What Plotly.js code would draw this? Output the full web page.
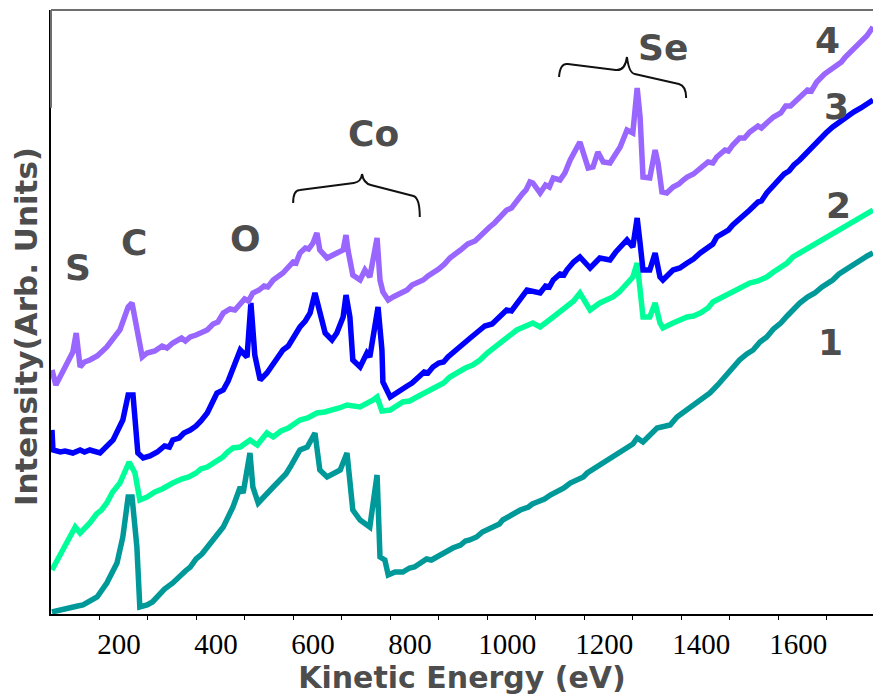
<!DOCTYPE html>
<html>
<head>
<meta charset="utf-8">
<script src="https://cdn.plot.ly/plotly-3.0.1.min.js"></script>
<style>html,body{margin:0;padding:0;background:#fff;}#chart{width:873px;height:696px;}</style>
</head>
<body>
<div id="chart"></div>
<script>
// Kinetic energy (eV) and intensity (arb. units)
const energy4 = [103,111,146,153,161,170,181,196,205,216,243,260,268,278,289,299,315,330,340,352,370,378,388,400,410,423,435,445,456,470,480,491,500,508,517,530,540,548,559,579,590,600,606,614,625,632,641,649,655,670,682,703,709,713,723,738,748,758,773,779,785,796,806,820,835,845,855,868,878,888,900,912,923,945,960,975,990,1005,1015,1026,1040,1050,1061,1072,1080,1088,1094,1109,1120,1128,1136,1150,1160,1171,1191,1197,1208,1218,1228,1239,1253,1262,1274,1288,1300,1309,1315,1321,1335,1346,1352,1360,1370,1383,1395,1404,1412,1425,1439,1455,1465,1473,1490,1497,1506,1520,1530,1541,1558,1565,1576,1590,1605,1615,1625,1635,1644,1660,1668,1679,1695,1705,1718,1730,1738,1747,1760,1770,1782,1795];
const intensity4 = [244,229,262,281,247,252,254,258,262,267,284,307,311,284,257,261,263,268,266,271,276,273,277,279,281,284,290,292,301,305,304,311,315,313,321,324,328,327,334,341,347,352,351,361,366,365,371,381,364,356,359,364,379,364,339,334,344,337,376,334,322,314,317,321,324,329,331,334,338,341,345,350,356,364,370,373,381,387,391,397,404,406,414,420,424,432,431,421,429,427,436,434,441,454,472,464,446,447,462,452,451,458,467,484,481,526,497,437,436,464,451,422,421,427,430,434,437,440,446,452,451,457,464,463,469,476,476,482,488,486,491,497,501,508,508,513,517,524,523,532,540,543,548,552,557,561,568,571,578,587];

const energy3 = [103,105,120,130,146,161,170,181,202,229,249,260,270,280,291,305,320,335,345,352,365,375,388,400,410,423,443,456,466,476,491,505,513,521,532,546,560,570,579,590,600,607,614,625,635,645,655,666,680,690,703,709,717,723,738,752,758,775,783,785,800,820,835,845,855,870,878,888,900,910,919,935,950,965,980,995,1010,1026,1040,1050,1061,1082,1109,1120,1128,1136,1150,1158,1164,1178,1191,1212,1232,1253,1265,1275,1288,1300,1309,1315,1321,1335,1346,1356,1362,1383,1397,1412,1425,1439,1455,1465,1473,1490,1497,1506,1520,1530,1541,1558,1565,1576,1590,1600,1612,1622,1632,1644,1660,1672,1685,1698,1712,1725,1740,1755,1770,1783,1795];
const intensity3 = [184,164,162,163,161,164,162,164,161,174,194,219,219,161,156,158,162,168,167,174,176,181,184,188,193,201,221,224,233,247,264,257,311,259,234,241,250,256,264,268,276,279,287,293,301,321,304,281,274,281,297,319,297,254,247,261,257,307,264,232,217,224,228,231,236,242,241,247,251,252,257,264,271,276,282,288,290,297,304,303,311,324,321,328,327,334,340,339,344,352,357,346,356,354,362,367,374,367,396,371,344,344,361,337,334,344,346,351,355,361,367,370,377,382,384,389,395,398,404,412,413,421,429,433,440,443,449,454,462,469,474,481,487,492,497,502,506,510,514];

const energy2 = [103,126,151,161,181,195,205,216,228,243,262,274,284,299,315,330,340,352,370,385,400,410,423,440,455,465,476,491,511,526,536,546,559,575,590,600,614,630,640,649,665,682,695,711,738,765,773,783,800,826,840,855,870,882,896,910,923,940,955,970,985,1000,1013,1026,1040,1050,1061,1094,1109,1136,1150,1164,1178,1191,1212,1232,1259,1272,1288,1300,1309,1315,1321,1335,1346,1356,1362,1383,1412,1425,1439,1455,1465,1473,1490,1506,1520,1530,1541,1558,1576,1590,1605,1618,1630,1644,1660,1675,1690,1700,1712,1725,1740,1755,1770,1783,1795];
const intensity2 = [44,64,87,81,91,100,104,111,122,131,152,141,114,117,122,125,128,131,135,137,141,145,147,152,157,162,166,167,174,169,176,181,177,183,186,190,194,196,198,201,202,204,206,209,207,214,217,203,204,212,213,217,221,224,227,231,237,242,246,249,254,261,266,271,276,280,284,291,287,297,302,307,313,321,304,311,317,322,331,337,351,324,297,297,311,291,286,291,297,298,301,306,312,314,318,322,325,328,331,333,337,342,346,351,357,361,366,369,374,377,381,384,389,393,397,401,404];

const energy1 = [103,126,146,156,167,180,196,216,237,249,260,268,278,284,299,310,320,335,352,365,378,388,400,412,423,435,445,456,476,491,497,511,517,528,559,575,585,594,604,614,629,645,655,670,697,711,723,738,758,773,779,789,796,810,826,840,850,861,875,885,896,910,920,929,945,955,964,978,990,1000,1015,1025,1032,1045,1057,1068,1085,1093,1103,1118,1130,1144,1158,1171,1188,1198,1206,1222,1230,1239,1255,1265,1274,1290,1300,1309,1321,1350,1377,1391,1418,1430,1445,1459,1475,1490,1498,1506,1520,1535,1548,1562,1576,1590,1605,1618,1630,1644,1660,1675,1690,1700,1712,1725,1740,1755,1770,1783,1795];
const intensity1 = [2,4,7,8,9,13,17,31,51,77,117,117,67,7,9,12,17,25,31,38,43,47,55,60,67,74,79,87,107,127,121,161,127,111,127,135,140,147,155,164,167,181,144,137,144,161,104,94,87,139,57,54,39,42,42,46,47,51,55,54,57,60,64,66,69,73,74,77,82,84,88,90,94,98,101,104,107,110,112,115,119,122,126,131,135,137,141,146,148,152,156,159,162,167,170,176,172,186,189,197,206,210,215,221,229,237,241,247,254,260,264,272,277,285,291,298,304,311,317,321,327,330,334,340,345,349,354,358,361];

const seriesNames = ['1','2','3','4'];
const seriesColors = ['#009999','#00FF99','#0000FF','#9966FF'];

// tick marks every 100 eV; labels every 200 eV (drawn slightly to the right of their ticks, as in the reference)
const xTickVals = [200,300,400,500,600,700,800,900,1000,1100,1200,1300,1400,1500,1600,1700];
const xLabelVals = [200,400,600,800,1000,1200,1400,1600];
const xLabelText = ['200','400','600','800','1000','1200','1400','1600'];
const xRange = [101,1795];
const labelOffsetEV = 41;

// element labels: [text, energy, intensity]
const peakLabels = [['S',157,347],['C',272,372],['O',501,376],['Co',765,481],['Se',1362,567]];
const curveLabels = [['4',1702,574],['3',1719,508],['2',1723,409],['1',1708,272]];

const textColor = '#4d4d4d';
const labelFont = {family:'DejaVu Sans', size:36, color:textColor, weight:'bold'};

const data = [
  {x:energy1, y:intensity1, name:seriesNames[0]},
  {x:energy2, y:intensity2, name:seriesNames[1]},
  {x:energy3, y:intensity3, name:seriesNames[2]},
  {x:energy4, y:intensity4, name:seriesNames[3]}
].map((t,i)=>Object.assign(t,{type:'scatter', mode:'lines', line:{color:seriesColors[i], width:5.5}, hoverinfo:'skip'}));
// empty trace so the label axis is created
data.push({type:'scatter', mode:'lines', x:[], y:[], xaxis:'x2', yaxis:'y', hoverinfo:'skip', showlegend:false});

const annotations = peakLabels.concat(curveLabels).map(a=>({
  text:a[0], x:a[1], y:a[2], xref:'x', yref:'y', showarrow:false, font:labelFont,
  xanchor:'center', yanchor:'middle'
}));
annotations.push({
  text:'Intensity(Arb. Units)', xref:'paper', yref:'paper', x:-0.0304, y:0.475,
  textangle:-90, showarrow:false, xanchor:'center', yanchor:'middle',
  font:{family:'DejaVu Sans', size:31, color:textColor, weight:'bold'}
});

const braceStyle = {color:'#111', width:2};
const shapes = [
  {type:'path', xref:'x', yref:'y', line:braceStyle,
   path:'M 600,411 Q 600,424 614,424 L 725,431 Q 740,432 742,440 Q 745,431 760,429 L 848,418 Q 861,416 861,397'},
  {type:'path', xref:'x', yref:'y', line:braceStyle,
   path:'M 1148,537 Q 1150,551 1166,550 L 1265,544 Q 1284,543 1288,557 Q 1292,541 1304,540 L 1395,530 Q 1410,528 1410,516'},
  {type:'line', xref:'paper', yref:'paper', x0:0, x1:1, y0:1, y1:1, line:{color:'#6e6e6e', width:2}},
  {type:'line', xref:'paper', yref:'paper', x0:0, x1:0, y0:0.838, y1:1, line:{color:'#6e6e6e', width:2}}
];

const layout = {
  width:873, height:696,
  margin:{l:51, r:0, t:10, b:82, pad:0},
  paper_bgcolor:'#fff', plot_bgcolor:'#fff',
  showlegend:false,
  xaxis:{
    range:xRange, showgrid:false, zeroline:false,
    showline:true, linecolor:'#000', linewidth:2,
    tickvals:xTickVals, showticklabels:false,
    ticks:'outside', ticklen:4, tickwidth:1, tickcolor:'#000'
  },
  xaxis2:{
    overlaying:'x', anchor:'y', side:'bottom',
    range:[xRange[0]-labelOffsetEV, xRange[1]-labelOffsetEV],
    showgrid:false, zeroline:false, showline:false,
    tickvals:xLabelVals, ticktext:xLabelText,
    ticks:'outside', ticklen:4, tickcolor:'rgba(0,0,0,0)',
    tickfont:{family:'Liberation Serif', size:29, color:'#000'},
    title:{text:'Kinetic Energy (eV)', standoff:6,
      font:{family:'DejaVu Sans', size:30, color:textColor, weight:'bold'}}
  },
  yaxis:{
    range:[0,604], showgrid:false, zeroline:false,
    showline:true, linecolor:'#000', linewidth:2,
    showticklabels:false, ticks:''
  },
  annotations:annotations,
  shapes:shapes
};

Plotly.newPlot('chart', data, layout, {staticPlot:true, displayModeBar:false});
</script>
</body>
</html>
